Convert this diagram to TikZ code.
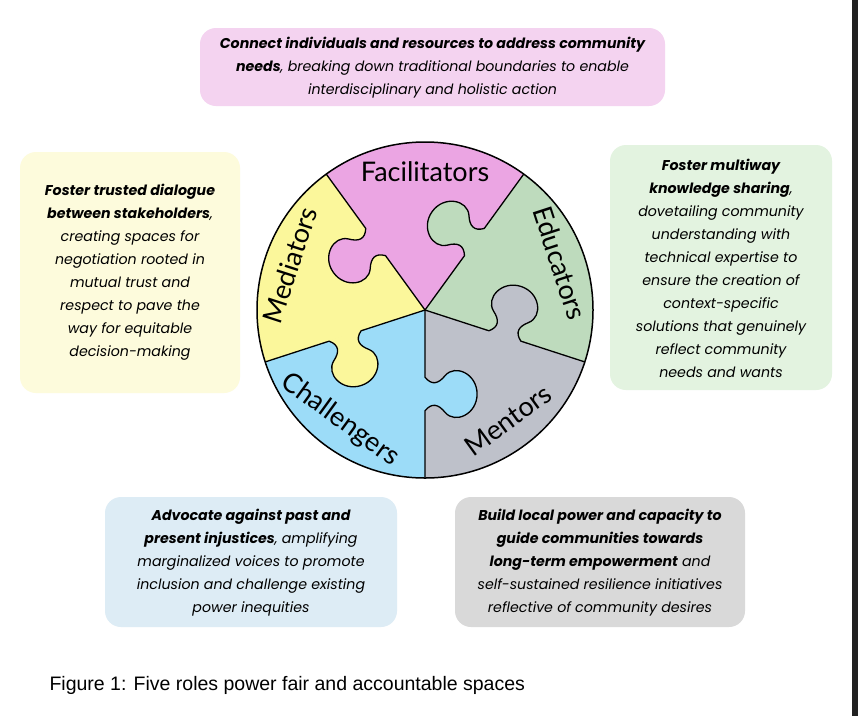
\documentclass[tikz,border=0pt]{standalone}
\usepackage{fontspec}
\setmainfont{Poppins}
\newfontfamily\lato{Lato}
\newfontfamily\capfont{Liberation Sans}
\definecolor{cpink}{HTML}{EBA5E3}
\definecolor{cyel}{HTML}{FBF79B}
\definecolor{cgreen}{HTML}{BEDBBD}
\definecolor{cgrey}{HTML}{BEC1CA}
\definecolor{cblue}{HTML}{9CDCF8}
\definecolor{bpink}{HTML}{F4D3F0}
\definecolor{byel}{HTML}{FDFBDC}
\definecolor{bgreen}{HTML}{E3F3E0}
\definecolor{bblue}{HTML}{DDECF5}
\definecolor{bgrey}{HTML}{D9D9D9}
\begin{document}
\begin{tikzpicture}[x=1pt,y=-1pt,
  box/.style={rounded corners=16pt,inner sep=0pt},
  btxt/.style={align=center,font=\fontsize{14.2}{23}\selectfont\itshape},
  plab/.style={font=\lato\fontsize{27}{30}\selectfont}]
\useasboundingbox (0,0) rectangle (858,716);
\fill[white] (0,0) rectangle (858,716);
\fill[black!87] (852,0) rectangle (858,716);
% boxes
\fill[bpink,box] (200,28) rectangle (665,106);
\fill[byel,box] (20,152) rectangle (240,393);
\fill[bgreen,box] (610,145) rectangle (832,390);
\fill[bblue,box] (105,497) rectangle (397,627);
\fill[bgrey,box] (455,497) rectangle (745,627);
\node[btxt] (t1) at (432.5,68) {\textbf{Connect individuals and resources to address community}\\\textbf{needs}, breaking down traditional boundaries to enable\\interdisciplinary and holistic action};
\node[btxt] (t2) at (130,272) {\textbf{Foster trusted dialogue}\\\textbf{between stakeholders},\\creating spaces for\\negotiation rooted in\\mutual trust and\\respect to pave the\\way for equitable\\decision-making};
\node[btxt] (t3) at (721,268) {\textbf{Foster multiway}\\\textbf{knowledge sharing},\\dovetailing community\\understanding with\\technical expertise to\\ensure the creation of\\context-specific\\solutions that genuinely\\reflect community\\needs and wants};
\node[btxt] (t4) at (251,563) {\textbf{Advocate against past and}\\\textbf{present injustices}, amplifying\\marginalized voices to promote\\inclusion and challenge existing\\power inequities};
\node[btxt] (t5) at (600,563) {\textbf{Build local power and capacity to}\\\textbf{guide communities towards}\\\textbf{long-term empowerment} and\\self-sustained resilience initiatives\\reflective of community desires};
\node[font=\capfont\fontsize{19.5}{22}\selectfont,anchor=west] (cap) at (46,685) {Figure 1: Five roles power fair and accountable spaces};
% puzzle
\begin{scope}[shift={(425,310)},x=168pt,y=168pt]
\fill[cpink] (0,0) -- (54:1) arc[start angle=54,end angle=126,radius=1] -- cycle;
\fill[cyel] (0,0) -- (126:1) arc[start angle=126,end angle=198,radius=1] -- cycle;
\fill[cblue] (0,0) -- (198:1) arc[start angle=198,end angle=270,radius=1] -- cycle;
\fill[cgrey] (0,0) -- (270:1) arc[start angle=270,end angle=342,radius=1] -- cycle;
\fill[cgreen] (0,0) -- (342:1) arc[start angle=342,end angle=414,radius=1] -- cycle;
\foreach \a/\c in {126/cpink,198/cyel,270/cblue,342/cgrey,54/cgreen}{
  \begin{scope}[rotate=\a]
  \fill[\c] (0.40,-0.005) .. controls (0.45,0.04) and (0.44,0.08) .. (0.39,0.12) .. controls (0.32,0.18) and (0.38,0.31) .. (0.50,0.31) .. controls (0.62,0.31) and (0.68,0.18) .. (0.61,0.12) .. controls (0.56,0.08) and (0.55,0.04) .. (0.60,-0.005) -- cycle;
  \draw[line width=1.3pt,line join=round] (0,0) -- (0.40,0) .. controls (0.45,0.04) and (0.44,0.08) .. (0.39,0.12) .. controls (0.32,0.18) and (0.38,0.31) .. (0.50,0.31) .. controls (0.62,0.31) and (0.68,0.18) .. (0.61,0.12) .. controls (0.56,0.08) and (0.55,0.04) .. (0.60,0) -- (1,0);
  \end{scope}}
\draw[line width=1.5pt] (0,0) circle[radius=1];
\end{scope}
\node[plab] (f) at (425,172) {Facilitators};
\node[plab,rotate=72] (m) at (290,265) {Mediators};
\node[plab,rotate=-72] (e) at (560,263) {Educators};
\node[plab,rotate=36] (mt) at (508,420) {Mentors};
\node[plab,rotate=-36] (c) at (340,420) {Challengers};
\end{tikzpicture}
\end{document}
